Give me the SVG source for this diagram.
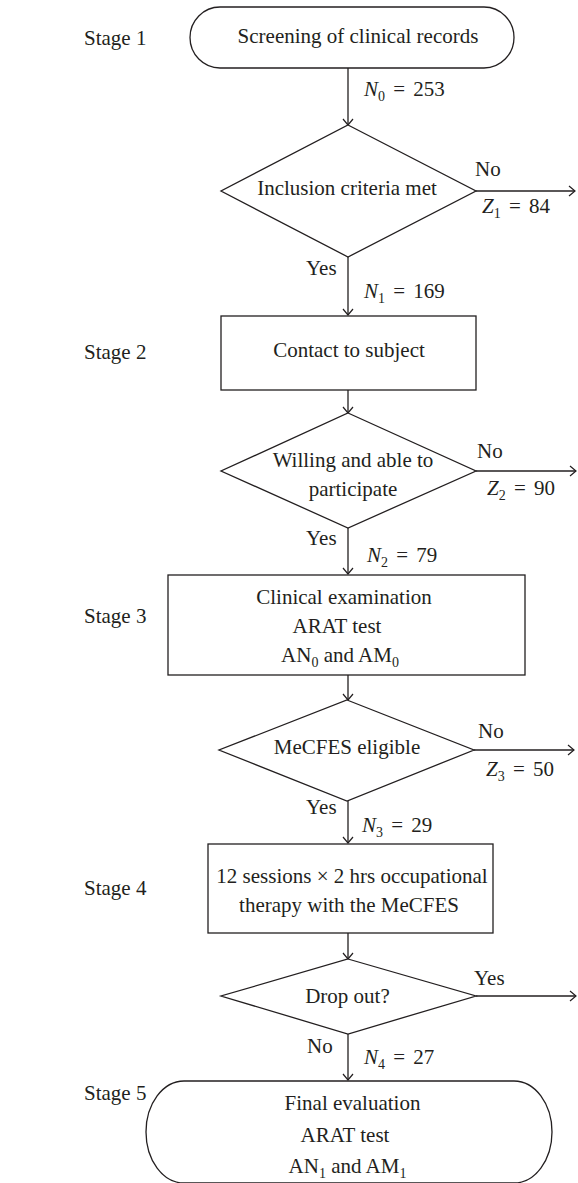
<svg xmlns="http://www.w3.org/2000/svg" width="578" height="1183" viewBox="0 0 578 1183" font-family="'Liberation Serif', 'DejaVu Serif', serif">
<defs>
<marker id="arr" markerUnits="userSpaceOnUse" markerWidth="14" markerHeight="14" viewBox="-8 -7 10 14" refX="0" refY="0" orient="auto">
<path d="M-6,-5 L0,0 L-6,5" fill="none" stroke="#231f20" stroke-width="1.2"/>
</marker>
<style>
.shape{fill:#fff;stroke:#231f20;stroke-width:1.3}
.conn{fill:none;stroke:#231f20;stroke-width:1.3;marker-end:url(#arr)}
text{font-family:'Liberation Serif','DejaVu Serif',serif;font-size:21px;fill:#231f20}
.c{text-anchor:middle}
.i{font-style:italic}
.sub{font-size:14px}
.eq{word-spacing:3px}
</style>
</defs>
<rect width="578" height="1183" fill="#fff"/>

<g id="stages">
<text x="84" y="45">Stage 1</text>
<text x="84" y="359">Stage 2</text>
<text x="84" y="623">Stage 3</text>
<text x="84" y="895">Stage 4</text>
<text x="84" y="1100">Stage 5</text>
</g>

<g id="connectors">
<line class="conn" x1="348" y1="68" x2="348" y2="125"/>
<line class="conn" x1="476" y1="191" x2="575" y2="191"/>
<line class="conn" x1="348" y1="257" x2="348" y2="315"/>
<line class="conn" x1="348" y1="390" x2="348" y2="413"/>
<line class="conn" x1="476" y1="471" x2="576" y2="471"/>
<line class="conn" x1="348" y1="528" x2="348" y2="574"/>
<line class="conn" x1="348" y1="675" x2="348" y2="700"/>
<line class="conn" x1="474" y1="750" x2="574" y2="750"/>
<line class="conn" x1="348" y1="801" x2="348" y2="843"/>
<line class="conn" x1="348" y1="933" x2="348" y2="959"/>
<line class="conn" x1="476" y1="996" x2="576" y2="996"/>
<line class="conn" x1="348" y1="1034" x2="348" y2="1080"/>
</g>

<g id="edge-labels">
<text class="eq" x="364" y="96"><tspan class="i">N</tspan><tspan class="sub" dy="5">0</tspan><tspan dy="-5"> = 253</tspan></text>
<text x="475" y="176">No</text>
<text class="eq" x="482" y="213"><tspan class="i">Z</tspan><tspan class="sub" dy="5">1</tspan><tspan dy="-5"> = 84</tspan></text>
<text x="306" y="275">Yes</text>
<text class="eq" x="364" y="298"><tspan class="i">N</tspan><tspan class="sub" dy="5">1</tspan><tspan dy="-5"> = 169</tspan></text>
<text x="477" y="458">No</text>
<text class="eq" x="487" y="495"><tspan class="i">Z</tspan><tspan class="sub" dy="5">2</tspan><tspan dy="-5"> = 90</tspan></text>
<text x="306" y="545">Yes</text>
<text class="eq" x="367" y="562"><tspan class="i">N</tspan><tspan class="sub" dy="5">2</tspan><tspan dy="-5"> = 79</tspan></text>
<text x="478" y="738">No</text>
<text class="eq" x="486" y="776"><tspan class="i">Z</tspan><tspan class="sub" dy="5">3</tspan><tspan dy="-5"> = 50</tspan></text>
<text x="306" y="814">Yes</text>
<text class="eq" x="362" y="832"><tspan class="i">N</tspan><tspan class="sub" dy="5">3</tspan><tspan dy="-5"> = 29</tspan></text>
<text x="474" y="985">Yes</text>
<text x="307" y="1053">No</text>
<text class="eq" x="364" y="1064"><tspan class="i">N</tspan><tspan class="sub" dy="5">4</tspan><tspan dy="-5"> = 27</tspan></text>
</g>

<g id="screening">
<path class="shape" d="M220,7 H484 A30,30.5 0 0 1 484,68 H220 A30,30.5 0 0 1 220,7 Z"/>
<text class="c" x="358" y="43">Screening of clinical records</text>
</g>

<g id="inclusion">
<polygon class="shape" points="348,125 476,191 348,257 221,191"/>
<text class="c" x="347" y="195">Inclusion criteria met</text>
</g>

<g id="contact">
<rect class="shape" x="221" y="316" width="255" height="74"/>
<text class="c" x="349" y="357">Contact to subject</text>
</g>

<g id="willing">
<polygon class="shape" points="348,413 476,471 348,528 221,471"/>
<text class="c" x="353" y="467">Willing and able to</text>
<text class="c" x="353" y="496">participate</text>
</g>

<g id="clinical">
<rect class="shape" x="168" y="575" width="357" height="100"/>
<text class="c" x="344" y="604">Clinical examination</text>
<text class="c" x="337" y="633">ARAT test</text>
<text class="c" x="340" y="662">AN<tspan class="sub" dy="5">0</tspan><tspan dy="-5"> and AM</tspan><tspan class="sub" dy="5">0</tspan></text>
</g>

<g id="mecfes-eligible">
<polygon class="shape" points="347,700 474,750 347,801 219,750"/>
<text class="c" x="347" y="754">MeCFES eligible</text>
</g>

<g id="sessions">
<rect class="shape" x="208" y="844" width="285" height="89"/>
<text class="c" x="352" y="883">12 sessions × 2 hrs occupational</text>
<text class="c" x="349" y="912">therapy with the MeCFES</text>
</g>

<g id="dropout">
<polygon class="shape" points="348,959 476,996 348,1034 221,996"/>
<text class="c" x="347.5" y="1003">Drop out?</text>
</g>

<g id="final">
<path class="shape" d="M184,1081 H514 A38,51 0 0 1 514,1183 H184 A38,51 0 0 1 184,1081 Z"/>
<text class="c" x="352.5" y="1110">Final evaluation</text>
<text class="c" x="345" y="1142">ARAT test</text>
<text class="c" x="347.5" y="1173">AN<tspan class="sub" dy="5">1</tspan><tspan dy="-5"> and AM</tspan><tspan class="sub" dy="5">1</tspan></text>
</g>
</svg>
